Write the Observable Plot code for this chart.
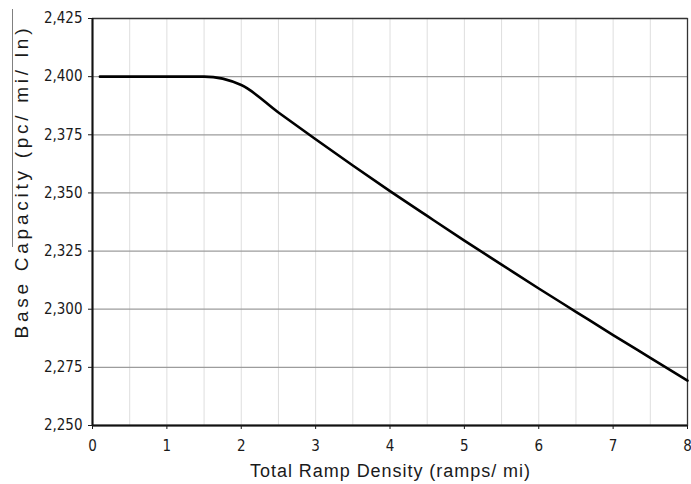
<!DOCTYPE html>
<html><head><meta charset="utf-8">
<script src="https://cdn.jsdelivr.net/npm/d3@7"></script>
<script src="https://cdn.jsdelivr.net/npm/@observablehq/plot@0.6"></script>
<style>
body{margin:0;background:#fff;}
#wrap{position:relative;width:691px;height:484px;}
#edge{position:absolute;left:12px;top:9px;width:0;height:238px;border-left:1px solid #808080;}
</style></head><body><div id="wrap"><div id="edge"></div></div>
<script>
const density  = [0.1, 0.5, 1, 1.5, 2, 2.5, 3, 3.5, 4, 4.5, 5, 5.5, 6, 6.5, 7, 7.5, 8];
const capacity = [2400, 2400, 2400, 2400, 2396.4, 2384.6, 2373.1, 2361.8, 2350.8, 2340.1, 2329.5, 2319.2, 2308.9, 2298.9, 2288.9, 2279.1, 2269.3];
const xTicks = [0, 1, 2, 3, 4, 5, 6, 7, 8];
const xGrid  = [0.5, 1, 1.5, 2, 2.5, 3, 3.5, 4, 4.5, 5, 5.5, 6, 6.5, 7, 7.5];
const yTicks = [2250, 2275, 2300, 2325, 2350, 2375, 2400, 2425];
const xLabel = "Total Ramp Density (ramps/ mi)";
const yLabel = "Base Capacity (pc/ mi/ ln)";

const data = density.map((d, i) => ({density: d, capacity: capacity[i]}));
const tickFont = "'DejaVu Sans Condensed', 'DejaVu Sans', sans-serif";
const labelFont = "'Liberation Sans', Arial, sans-serif";

const chart = Plot.plot({
  width: 691, height: 484,
  marginLeft: 92, marginRight: 4, marginTop: 18, marginBottom: 59,
  x: {domain: [0, 8]},
  y: {domain: [2250, 2425]},
  style: {fontFamily: tickFont, fontSize: "15px", color: "#1a1a1a", background: "#fff"},
  marks: [
    Plot.gridX(xGrid, {stroke: "#dedede", strokeOpacity: 1, strokeWidth: 1}),
    Plot.gridY(yTicks, {stroke: "#9c9c9c", strokeOpacity: 1, strokeWidth: 1.3}),
    Plot.frame({stroke: "#333", strokeWidth: 1.3}),
    Plot.ruleX([0], {stroke: "#111", strokeWidth: 2}),
    Plot.ruleY([2250], {stroke: "#111", strokeWidth: 2}),
    Plot.line(data, {x: "density", y: "capacity", curve: "monotone-x", stroke: "#000", strokeWidth: 2.6}),
    Plot.axisX(xTicks, {tickSize: 4, tickPadding: 11, label: null, tickFormat: d => String(d)}),
    Plot.axisY(yTicks, {tickSize: 4, tickPadding: 6, label: null, tickFormat: d3.format(",")}),
    Plot.text([xLabel], {text: d => d, frameAnchor: "bottom", textAnchor: "middle", lineAnchor: "middle", dy: 46, fontFamily: labelFont, fontSize: 18, fill: "#1a1a1a"}),
    Plot.text([yLabel], {text: d => d, frameAnchor: "left", textAnchor: "middle", lineAnchor: "middle", rotate: -90, dx: -71, dy: -38.5, fontFamily: labelFont, fontSize: 19, fill: "#1a1a1a"})
  ]
});
document.getElementById("wrap").appendChild(chart);
for (const t of chart.querySelectorAll("text")) {
  if (t.textContent === xLabel) { t.setAttribute("textLength", 280); t.setAttribute("lengthAdjust", "spacing"); }
  if (t.textContent === yLabel) { t.setAttribute("textLength", 310); t.setAttribute("lengthAdjust", "spacing"); }
}
</script>
</body></html>
